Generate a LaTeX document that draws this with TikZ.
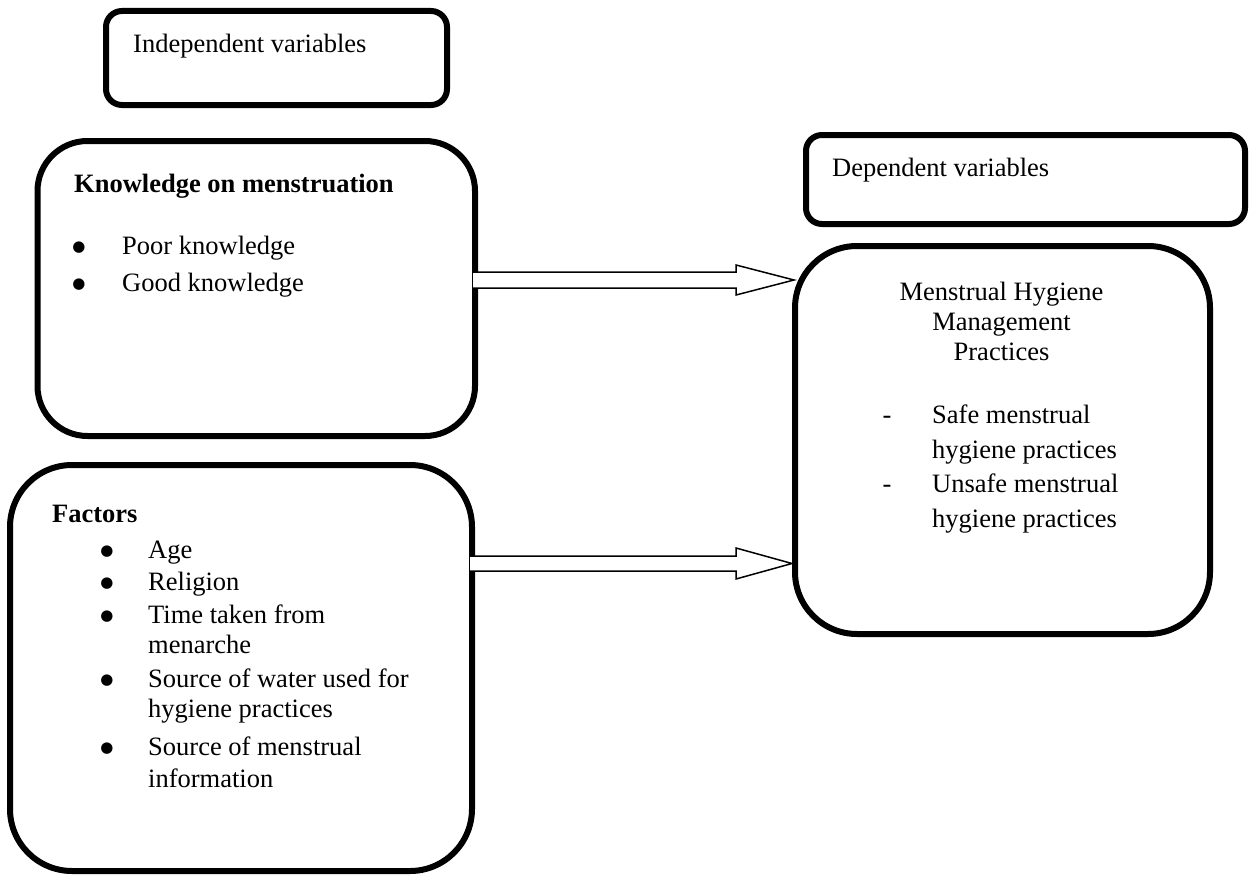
\documentclass[tikz,border=0pt]{standalone}
\usepackage{fontspec}
\setmainfont{Liberation Serif}
\newfontfamily\symfnt{DejaVu Sans}
\usetikzlibrary{calc}
\begin{document}
\begin{tikzpicture}[x=1pt,y=-1pt,
  box/.style={draw=black, line width=6pt, fill=white, inner sep=0pt, rectangle},
  txt/.style={inner sep=0pt, font=\fontsize{26.5}{31}\selectfont},
  lt/.style={txt, anchor=base west},
  ct/.style={txt, anchor=base},
  bul/.style={inner sep=0pt, anchor=base, font=\symfnt\fontsize{15}{15}\selectfont},
  blk/.style={draw=black, line width=1.5pt, fill=white, line join=miter}]
\useasboundingbox (0,0) rectangle (1251,875);

% boxes
\node[box, rounded corners=16pt, minimum width=341pt, minimum height=94pt] (ind) at (276.5,58) {};
\node[box, rounded corners=50pt, minimum width=437.5pt, minimum height=295pt] (know) at (256.25,288.5) {};
\node[box, rounded corners=62pt, minimum width=462pt, minimum height=406pt] (fac) at (241,668) {};
\node[box, rounded corners=16pt, minimum width=439pt, minimum height=89pt] (dep) at (1025.5,179.5) {};
\node[box, rounded corners=62pt, minimum width=415pt, minimum height=388pt] (mhm) at (1002.5,440) {};

% texts
\node[lt] (indt) at (133,53) {Independent variables};
\node[lt] (dept) at (832,176) {Dependent variables};

\node[lt, font=\fontsize{26.5}{31}\selectfont\bfseries] (kt) at (74,192) {Knowledge on menstruation};
\node[bul] (kb1) at (79,251) {●};
\node[lt] (k1) at (122,254) {Poor knowledge};
\node[bul] (kb2) at (79,288) {●};
\node[lt] (k2) at (122,291) {Good knowledge};

\node[lt, font=\fontsize{26.5}{31}\selectfont\bfseries] (ft) at (52,522) {Factors};
\node[bul] (fb1) at (107,555) {●};
\node[lt] (f1) at (148,558) {Age};
\node[bul] (fb2) at (107,587) {●};
\node[lt] (f2) at (148,590) {Religion};
\node[bul] (fb3) at (107,620) {●};
\node[lt] (f3a) at (148,623) {Time taken from};
\node[lt] (f3b) at (148,653) {menarche};
\node[bul] (fb4) at (107,684) {●};
\node[lt] (f4a) at (148,687) {Source of water used for};
\node[lt] (f4b) at (148,717) {hygiene practices};
\node[bul] (fb5) at (107,752) {●};
\node[lt] (f5a) at (148,755) {Source of menstrual};
\node[lt] (f5b) at (148,787) {information};

\node[ct] (m1) at (1001.5,300) {Menstrual Hygiene};
\node[ct] (m2) at (1001.5,330) {Management};
\node[ct] (m3) at (1001.5,360) {Practices};
\node[ct] (md1) at (887,423) {-};
\node[lt] (m4a) at (932,423) {Safe menstrual};
\node[lt] (m4b) at (932,458) {hygiene practices};
\node[ct] (md2) at (887,492) {-};
\node[lt] (m5a) at (932,492) {Unsafe menstrual};
\node[lt] (m5b) at (932,527) {hygiene practices};

% arrows
\coordinate (y1) at (0,280);
\coordinate (y2) at (0,563.5);
\coordinate (s1) at ($(know.east |- y1)+(-5,0)$);
\coordinate (t1) at ($(mhm.west |- y1)+(2,0)$);
\coordinate (s2) at ($(fac.east |- y2)+(-5,0)$);
\coordinate (t2) at ($(mhm.west |- y2)+(0,0)$);
\draw[blk] ($(s1)+(0,-8)$) -- ($(t1)+(-58,-8)$) -- ($(t1)+(-58,-15)$) -- (t1)
  -- ($(t1)+(-58,15)$) -- ($(t1)+(-58,8)$) -- ($(s1)+(0,8)$);
\draw[blk] ($(s2)+(0,-7.5)$) -- ($(t2)+(-56,-7.5)$) -- ($(t2)+(-56,-15.5)$) -- (t2)
  -- ($(t2)+(-56,15.5)$) -- ($(t2)+(-56,7.5)$) -- ($(s2)+(0,7.5)$);
\end{tikzpicture}
\end{document}
